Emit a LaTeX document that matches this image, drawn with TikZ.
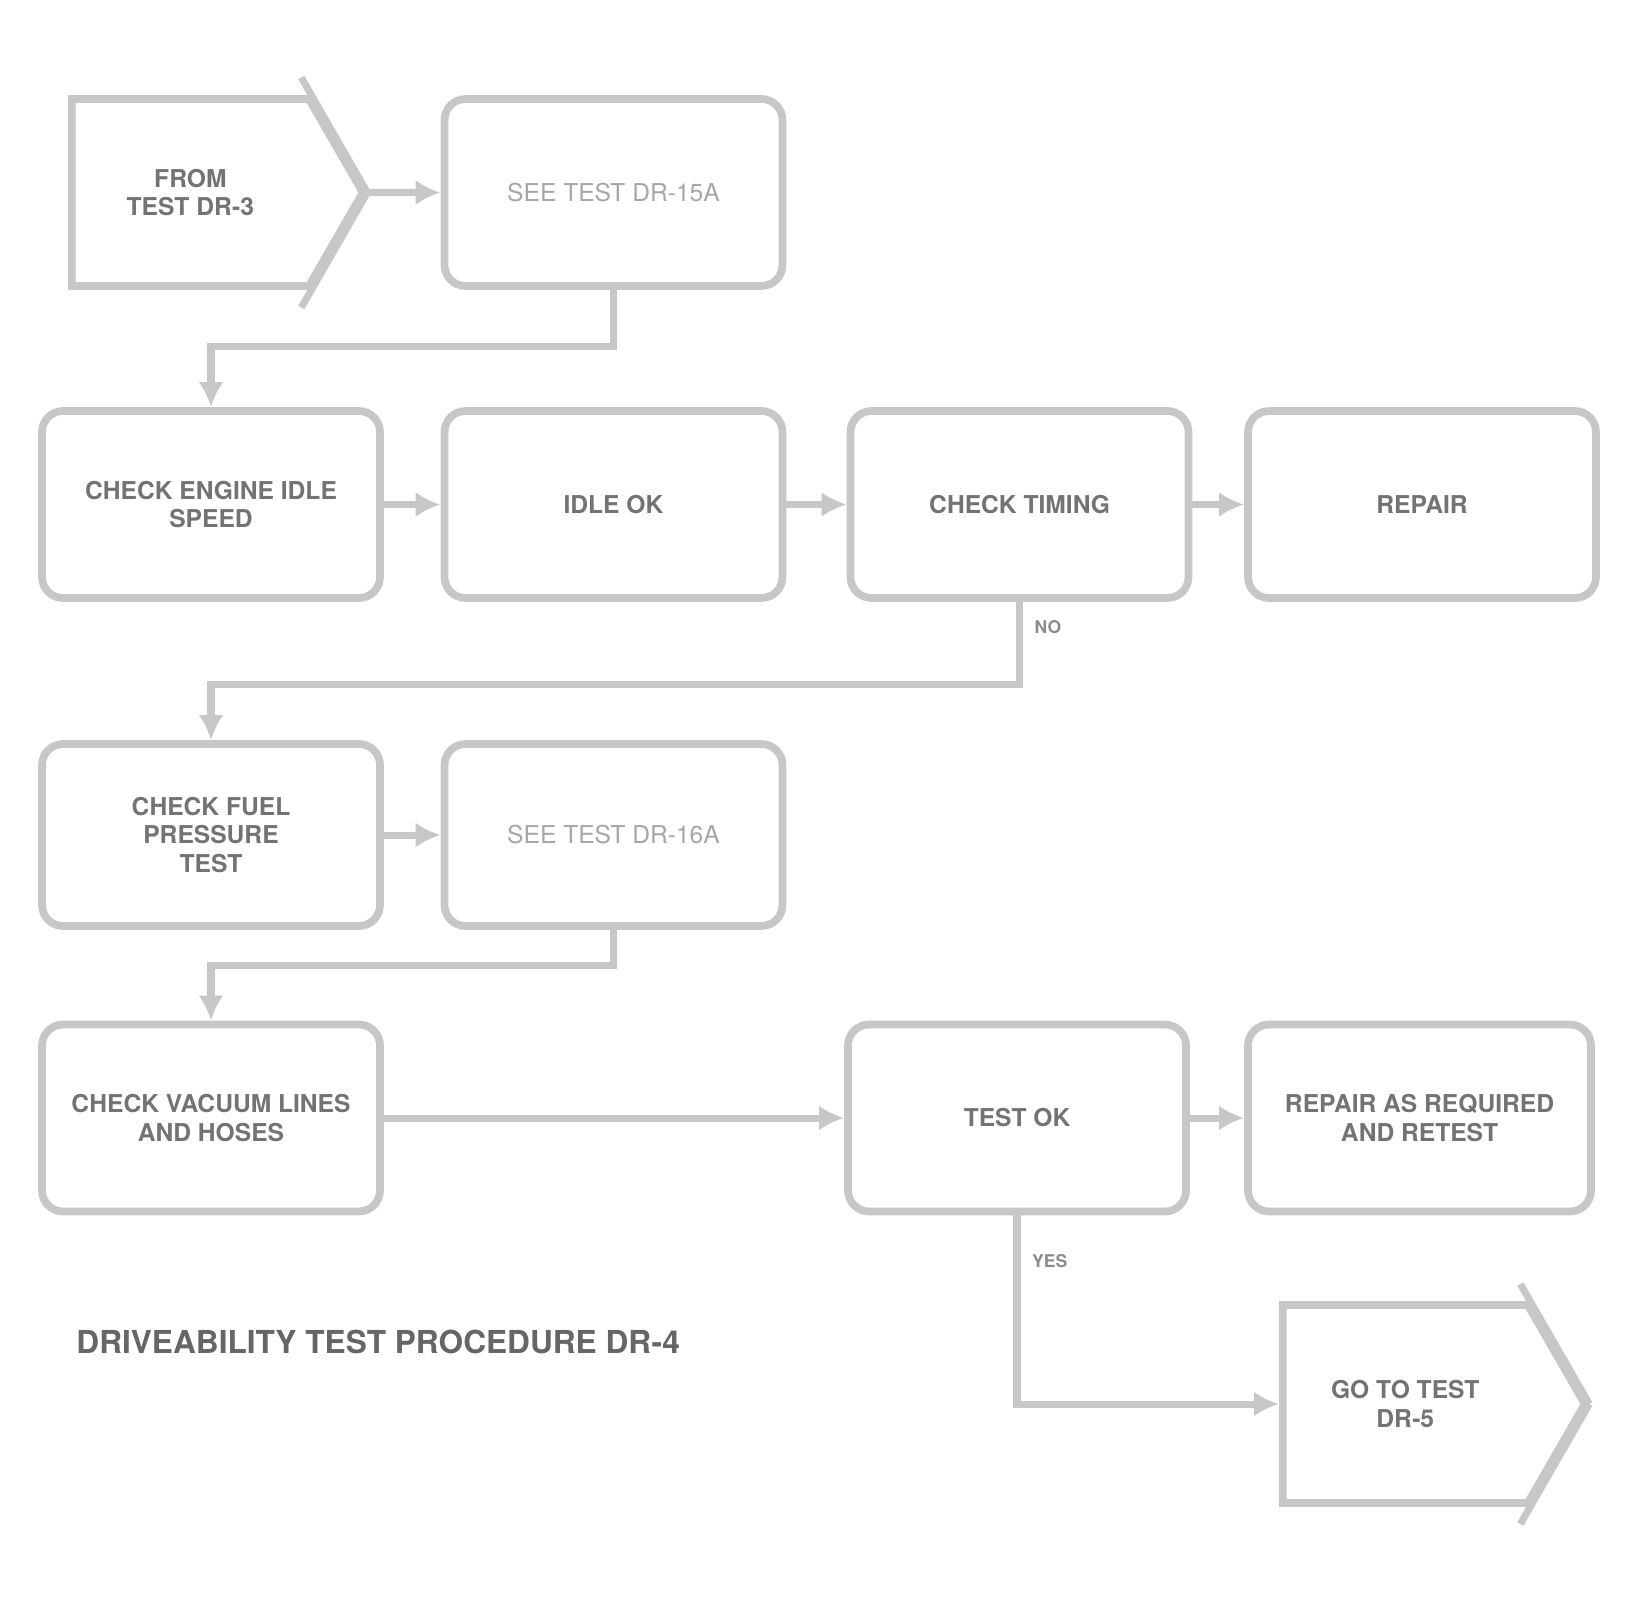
\documentclass[tikz,border=0pt]{standalone}
\usepackage{fontspec}
\setsansfont{TeX Gyre Heros}
\usetikzlibrary{arrows.meta,shapes.symbols}
\tikzset{
    flow-box/.style = {draw=black!22, line width=2.2pt, rectangle, rounded corners=6pt, minimum width=3.38cm, minimum height=1.87cm, align=center, font=\sffamily\bfseries\scriptsize, text=black!55},
    flow-note/.style = {font=\sffamily\scriptsize, text=black!35},
    flow-link/.style = {draw=black!22, line width=2pt, -{Latex[length=2.5mm,width=2.5mm]}},
    flow-tag/.style = {font=\sffamily\bfseries\tiny, text=black!45},
    page-link/.style = {flow-box, shape=signal, signal to=east, signal pointer angle=120, rounded corners=0pt, anchor=west},
    caption-text/.style = {font=\sffamily\bfseries\small, text=black!60},
}
\begin{document}
\begin{tikzpicture}
\useasboundingbox (0,0) rectangle (16.31,-15.96);
% row 1
\node[page-link, minimum width=2.91cm] (from-test) at (0.68,-1.925) {FROM\\TEST DR-3};
\node[flow-box, flow-note] (see-a) at (6.135,-1.925) {SEE TEST DR-15A};
% row 2
\node[flow-box] (idle-check) at (2.11,-5.045) {CHECK ENGINE IDLE\\SPEED};
\node[flow-box] (idle-ok) at (6.135,-5.045) {IDLE OK};
\node[flow-box] (timing) at (10.195,-5.045) {CHECK TIMING};
\node[flow-box, minimum width=3.48cm] (repair) at (14.22,-5.045) {REPAIR};
% row 3
\node[flow-box, minimum height=1.82cm] (fuel) at (2.11,-8.35) {CHECK FUEL\\PRESSURE\\TEST};
\node[flow-box, flow-note, minimum height=1.82cm] (see-b) at (6.135,-8.35) {SEE TEST DR-16A};
% row 4
\node[flow-box] (vacuum) at (2.11,-11.18) {CHECK VACUUM LINES\\AND HOSES};
\node[flow-box] (test-ok) at (10.17,-11.18) {TEST OK};
\node[flow-box, minimum width=3.43cm] (retest) at (14.195,-11.18) {REPAIR AS REQUIRED\\AND RETEST};
\node[page-link, minimum width=3.02cm, minimum height=1.98cm] (goto-test) at (12.79,-14.04) {GO TO TEST\\DR-5};
\node[caption-text, anchor=west] (caption) at (0.64,-13.42) {DRIVEABILITY TEST PROCEDURE DR-4};

\draw[flow-link, -] (from-test.east) -- ++(-0.66,1.15);
\draw[flow-link, -] (from-test.east) -- ++(-0.66,-1.15);
\draw[flow-link, -] (goto-test.east) -- ++(-0.69,1.2);
\draw[flow-link, -] (goto-test.east) -- ++(-0.69,-1.2);

\draw[flow-link] (from-test) -- (see-a);
\draw[flow-link] (see-a.south) -- ++(0,-0.57) -| (idle-check.north);
\draw[flow-link] (idle-check) -- (idle-ok);
\draw[flow-link] (idle-ok) -- (timing);
\draw[flow-link] (timing) -- (repair);
\draw[flow-link] (timing.south) -- node[flow-tag, right, pos=0.3] {NO} ++(0,-0.83) -| (fuel.north);
\draw[flow-link] (fuel) -- (see-b);
\draw[flow-link] (see-b.south) -- ++(0,-0.36) -| (vacuum.north);
\draw[flow-link] (vacuum) -- (test-ok);
\draw[flow-link] (test-ok) -- (retest);
\draw[flow-link] (test-ok.south) |- node[flow-tag, right, pos=0.12] {YES} (goto-test.west);
\end{tikzpicture}
\end{document}
